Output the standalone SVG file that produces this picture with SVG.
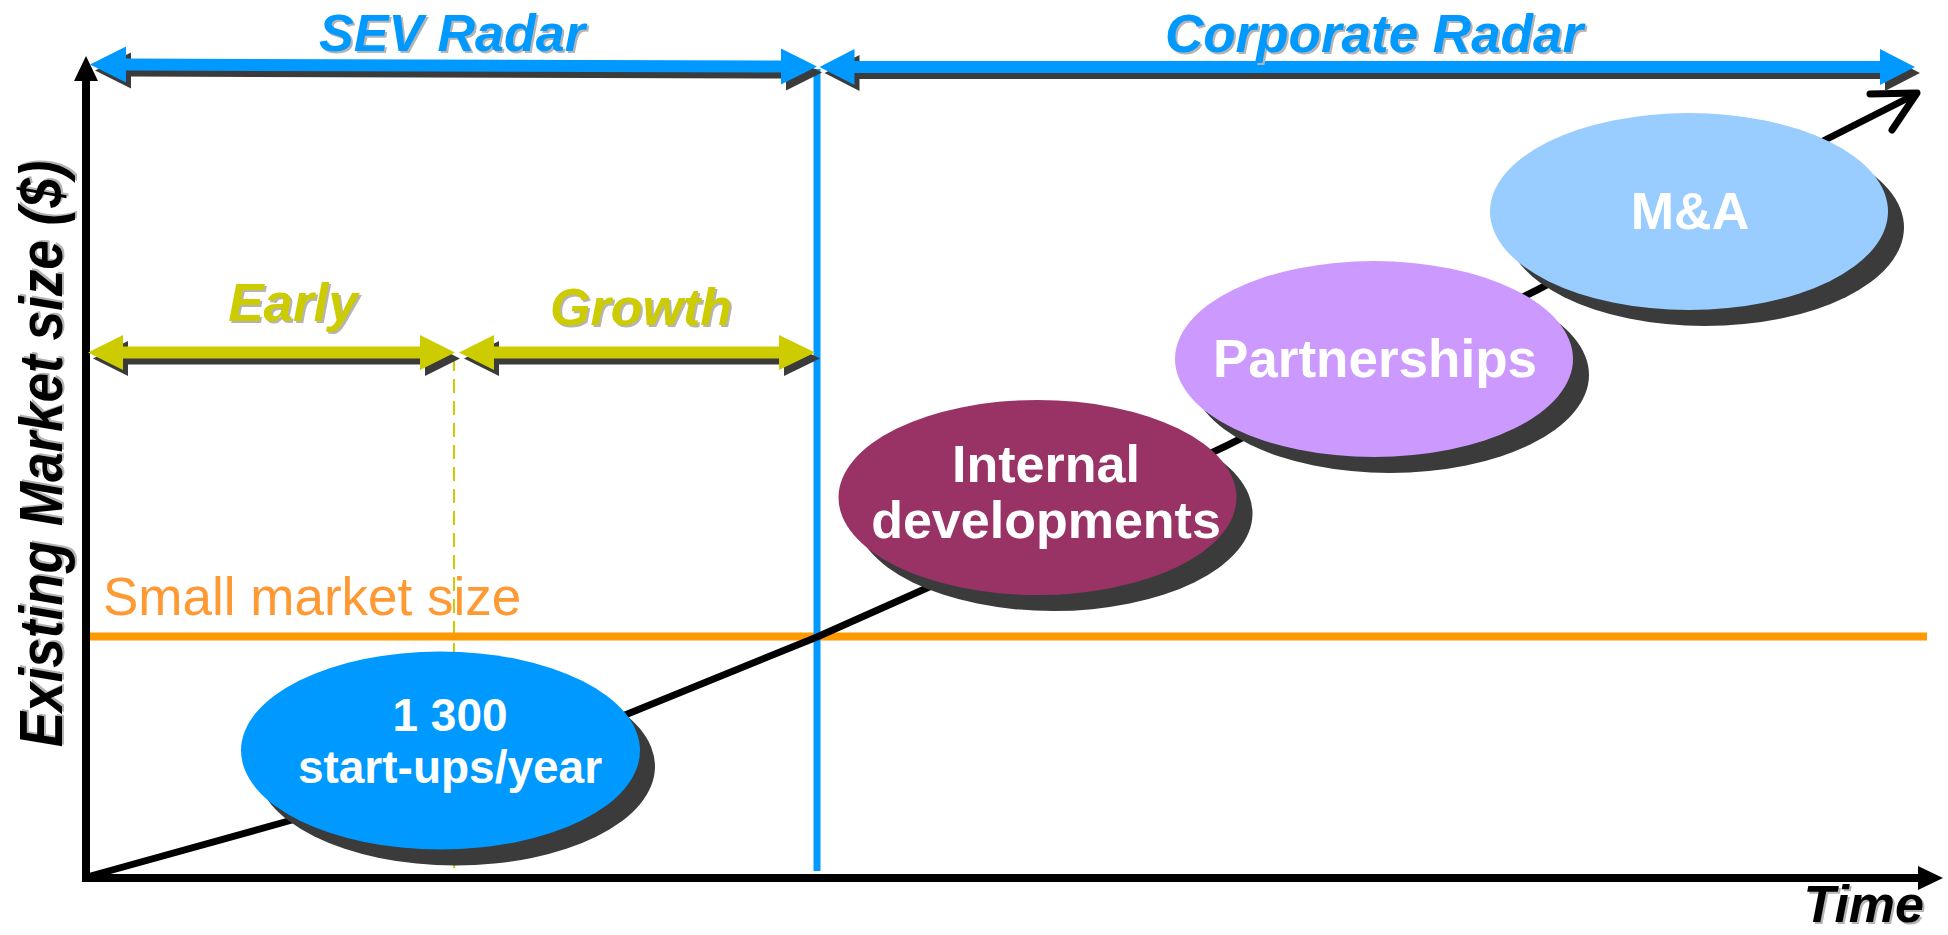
<svg xmlns="http://www.w3.org/2000/svg" width="1948" height="935" viewBox="0 0 1948 935">
<style>
.bi{font-family:"Liberation Sans",Arial,sans-serif;font-weight:bold;font-style:italic}
.b{font-family:"Liberation Sans",Arial,sans-serif;font-weight:bold;fill:#FFFFFF;text-anchor:middle}
.r{font-family:"Liberation Sans",Arial,sans-serif}
.sh{fill:#3B3B3B}
.tsh{fill:#B4B4B4}
.blue{fill:#0099FF}
.yel{fill:#CCCC00}
</style>
<defs>
<polygon id="arrSEV" points="90,64.5 126,46.5 126,58.5 781,60.5 781,48.5 817,66.5 781,84.5 781,72.5 126,70.5 126,82.5"/>
<polygon id="arrCorp" points="819.5,67 854.5,49 854.5,61 1880,61 1880,49 1915,67 1880,85 1880,73 854.5,73 854.5,85"/>
<polygon id="arrEarly" points="88,352.5 123,335 123,346.5 420,346.5 420,335 455,352.5 420,370 420,358.5 123,358.5 123,370"/>
<polygon id="arrGrowth" points="459,352.5 494,335 494,346.5 779,346.5 779,335 815,352.5 779,370 779,358.5 494,358.5 494,370"/>
</defs>

<g id="axes">
<line x1="86" y1="878" x2="86" y2="78" stroke="#000" stroke-width="8"/>
<polygon points="86,56 74,81 98,81" fill="#000"/>
<line x1="82" y1="878" x2="1920" y2="878" stroke="#000" stroke-width="8"/>
<polygon points="1943,878 1918,866 1918,890" fill="#000"/>
<g transform="translate(62,454) rotate(-90) scale(0.87,1)">
<text class="bi tsh" x="2" y="2" font-size="61" text-anchor="middle">Existing Market size ($)</text>
<text class="bi" x="0" y="0" font-size="61" text-anchor="middle" fill="#000">Existing Market size ($)</text>
</g>
<text class="bi tsh" x="1926" y="924" font-size="52" text-anchor="end">Time</text>
<text class="bi" x="1924" y="922" font-size="52" text-anchor="end" fill="#000">Time</text>
</g>

<g id="connectors">
<line x1="454" y1="357" x2="454" y2="868" stroke="#CCCC00" stroke-width="2" stroke-dasharray="14 8"/>
<line x1="90" y1="636.5" x2="1927" y2="636.5" stroke="#FF9900" stroke-width="8"/>
<line x1="817" y1="69" x2="817" y2="871" stroke="#0099FF" stroke-width="7"/>
<polyline points="87,877 292,820 625,715 817,637 927,588 1228,445 1537,290 1827,139 1916,94" fill="none" stroke="#000" stroke-width="7" stroke-linejoin="round"/>
<polyline points="1870,94 1917,93 1892,130" fill="none" stroke="#000" stroke-width="7" stroke-linecap="round" stroke-linejoin="round"/>
</g>

<g id="sev-radar">
<use href="#arrSEV" class="sh" transform="translate(5,6)"/>
<use href="#arrSEV" class="blue"/>
<text class="bi tsh" x="454" y="52.5" font-size="52" text-anchor="middle">SEV Radar</text>
<text class="bi blue" x="452" y="50.5" font-size="52" text-anchor="middle">SEV Radar</text>
</g>

<g id="corporate-radar">
<use href="#arrCorp" class="sh" transform="translate(5,6)"/>
<use href="#arrCorp" class="blue"/>
<text class="bi tsh" x="1376" y="53.5" font-size="53" text-anchor="middle">Corporate Radar</text>
<text class="bi blue" x="1374" y="51.5" font-size="53" text-anchor="middle">Corporate Radar</text>
</g>

<g id="early">
<use href="#arrEarly" class="sh" transform="translate(5,6)"/>
<use href="#arrEarly" class="yel"/>
<text class="bi tsh" x="295" y="322.5" font-size="53" text-anchor="middle">Early</text>
<text class="bi yel" x="293" y="320.5" font-size="53" text-anchor="middle">Early</text>
</g>

<g id="growth">
<use href="#arrGrowth" class="sh" transform="translate(5,6)"/>
<use href="#arrGrowth" class="yel"/>
<text class="bi tsh" x="643" y="327" font-size="52" text-anchor="middle">Growth</text>
<text class="bi yel" x="641" y="325" font-size="52" text-anchor="middle">Growth</text>
</g>

<g id="small-market">
<text class="r" x="103" y="614.5" font-size="53" fill="#FF9933">Small market size</text>
</g>

<g id="startups">
<ellipse class="sh" cx="455.5" cy="766.5" rx="199.5" ry="99"/>
<ellipse cx="440.5" cy="750.5" rx="199.5" ry="99" fill="#0099FF"/>
<text class="b" x="450" y="731" font-size="46">1 300</text>
<text class="b" x="450" y="783" font-size="46">start-ups/year</text>
</g>

<g id="internal">
<ellipse class="sh" cx="1053.5" cy="513.5" rx="199" ry="97.5"/>
<ellipse cx="1037.5" cy="497.5" rx="199" ry="97.5" fill="#993366"/>
<text class="b" x="1046" y="481.5" font-size="52">Internal</text>
<text class="b" x="1046" y="537.5" font-size="52">developments</text>
</g>

<g id="partnerships">
<ellipse class="sh" cx="1390" cy="375" rx="199" ry="98"/>
<ellipse cx="1374" cy="359" rx="199" ry="98" fill="#CC99FF"/>
<text class="b" x="1375" y="377" font-size="53">Partnerships</text>
</g>

<g id="ma">
<ellipse class="sh" cx="1705" cy="227.5" rx="199" ry="98.5"/>
<ellipse cx="1689" cy="211.5" rx="199" ry="98.5" fill="#99CCFF"/>
<text class="b" x="1690" y="229" font-size="52">M&amp;A</text>
</g>
</svg>
